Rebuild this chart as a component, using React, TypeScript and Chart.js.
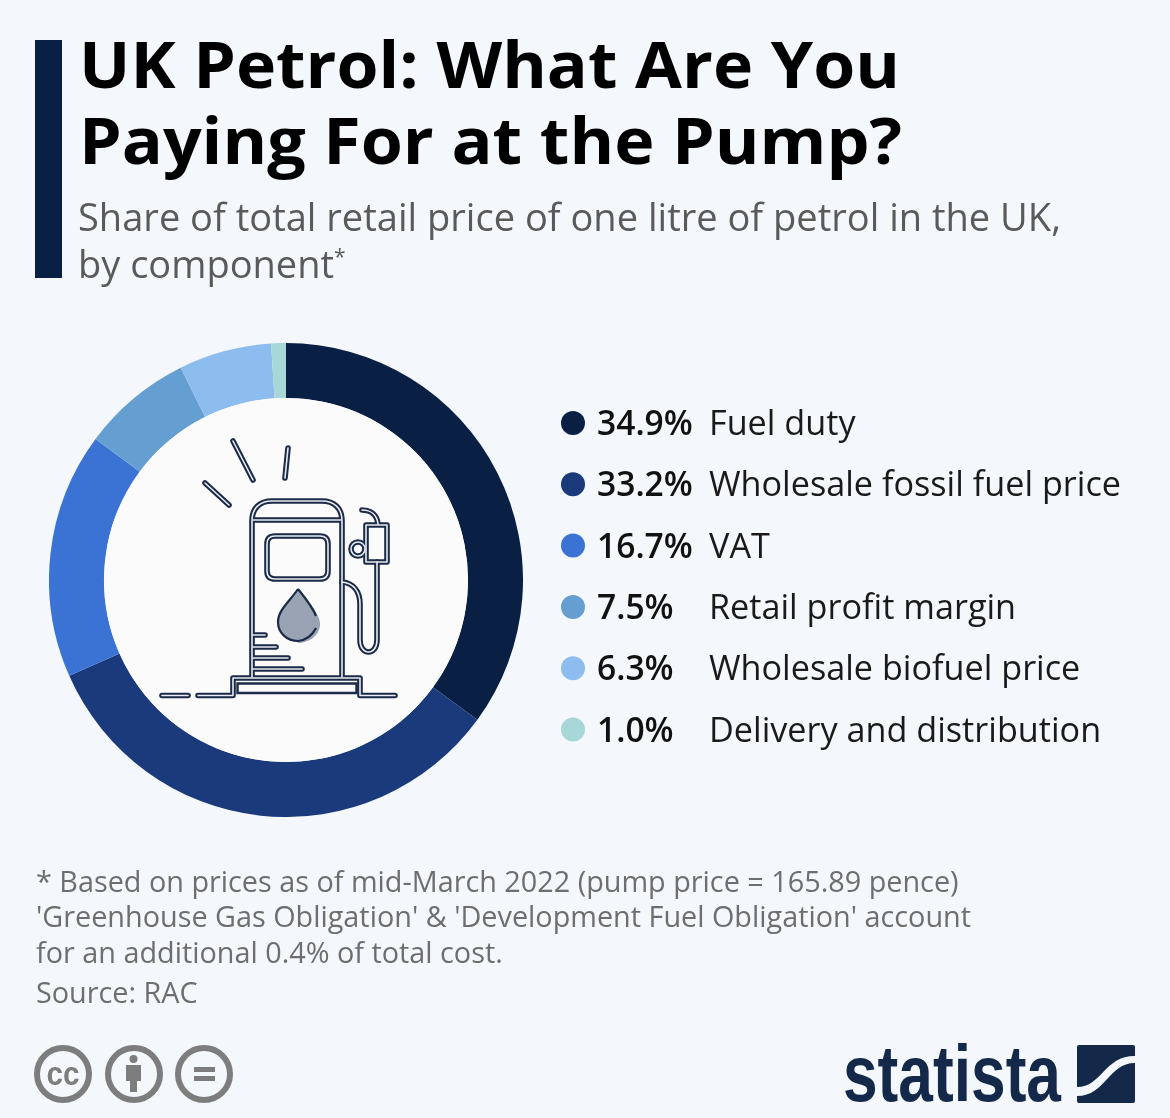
import React, { useEffect, useRef } from "react";
import { Chart, registerables } from "chart.js";

Chart.register(...registerables);

const categories = ["Fuel duty", "Wholesale fossil fuel price", "VAT", "Retail profit margin", "Wholesale biofuel price", "Delivery and distribution"];
const shares = [34.9, 33.2, 16.7, 7.5, 6.3, 1.0];
const colors = ["#0a1f44", "#1a3a7c", "#3b73d5", "#659fd2", "#8dbcee", "#a7d7d6"];
const titleLines = ["UK Petrol: What Are You", "Paying For at the Pump?"];
const footnotes = [
  "* Based on prices as of mid-March 2022 (pump price = 165.89 pence)",
  "'Greenhouse Gas Obligation' & 'Development Fuel Obligation' account",
  "for an additional 0.4% of total cost.",
];

const FONT = "'Open Sans', sans-serif";
const INK = "#1b2a47";

const iconPaths = [
  "M233 441 L253 480", "M288 448 L285 478", "M205 483 L229 505",
  "M252 677 V521 C252 508 260 501 272 501 H322 C334 501 342 508 342 521 V677",
  "M253 520 H341",
  "M275 536 H320 Q328 536 328 544 V571 Q328 579 320 579 H275 Q267 579 267 571 V544 Q267 536 275 536 Z",
  "M253 635 H265", "M253 647 H276", "M253 658 H288", "M253 669 H302",
  "M162 695.5 H188",
  "M198 695.5 H233 V678 H360 V695.5 H395",
  "M342 582 C354 583 360 592 360 604 V640 C360 656 377 656 377 640 V562",
  "M366 525 H387 V562 H366 Z",
  "M362 510 C371 510 377 515 378 524",
];

export default function App() {
  const ref = useRef<HTMLCanvasElement>(null);
  useEffect(() => {
    document.body.style.margin = "0";
    document.body.style.background = "#f4f8fc";
    const chart = new Chart(ref.current!, {
      type: "doughnut",
      data: {
        labels: categories,
        datasets: [{ data: shares, backgroundColor: colors, borderWidth: 0 }],
      },
      options: {
        animation: false,
        responsive: false,
        cutout: 182,
        layout: { padding: 0 },
        plugins: { legend: { display: false }, tooltip: { enabled: false } },
      },
    });
    return () => chart.destroy();
  }, []);

  return (
    <div style={{ position: "relative", width: 1170, height: 1118, background: "#f4f8fc", overflow: "hidden" }}>
      <canvas ref={ref} width={474} height={474} style={{ position: "absolute", left: 49, top: 343, width: 474, height: 474 }} />
      <svg width={1170} height={1118} style={{ position: "absolute", left: 0, top: 0 }} fontFamily={FONT}>
        <rect x={35} y={40} width={27} height={238} fill="#0a1f44" />
        {titleLines.map((t, i) => (
          <text key={t} x={79} y={88 + i * 76} fontSize={65} fontWeight={700} fill="#000" textLength={i === 0 ? 821 : 823} lengthAdjust="spacingAndGlyphs">{t}</text>
        ))}
        <text x={78} y={231} fontSize={38} fill="#5a5a5a" textLength={983} lengthAdjust="spacingAndGlyphs">Share of total retail price of one litre of petrol in the UK,</text>
        <text x={78} y={278} fontSize={38} fill="#5a5a5a">by component<tspan fontSize={21} dy={-14}>*</tspan></text>

        <circle cx={286} cy={580} r={182} fill="#fbfbfc" />
        <path d="M300 590 C305 598 322 615 320 626 C318 638 306 643 298 643 Z" fill="#9aa3b3" />
        <path d="M298 589 C290 601 278 610 278 622 C278 633 287 641 298 641 C309 641 318 633 318 622 C318 610 306 601 298 589 Z" fill="#9aa3b3" />
        <path d="M298 589 C290 601 278 610 278 622 C278 633 287 641 298 641" fill="none" stroke={INK} strokeWidth={2.2} />
        <path d="M298 589 C306 599 312 606 316 616 M316 628 C312 636 306 640 298 641" fill="none" stroke={INK} strokeWidth={2.2} />
        <path d="M237.5 683.5 H356.5 V693 H237.5 Z" fill="none" stroke={INK} strokeWidth={2.4} />
        {iconPaths.map((d) => (
          <path key={d} d={d} fill="none" stroke={INK} strokeWidth={5.6} strokeLinecap="round" strokeLinejoin="round" />
        ))}
        <circle cx={358} cy={549} r={7} fill="none" stroke={INK} strokeWidth={5.6} />
        {iconPaths.map((d) => (
          <path key={d + "w"} d={d} fill="none" stroke="#e9ecf1" strokeWidth={1.6} strokeLinecap="round" strokeLinejoin="round" />
        ))}
        <circle cx={358} cy={549} r={7} fill="none" stroke="#e9ecf1" strokeWidth={1.6} />

        {categories.map((c, i) => {
          const y = 423 + i * 61.3;
          return (
            <g key={c}>
              <circle cx={573} cy={y} r={12} fill={colors[i]} />
              <text x={597} y={y + 12} fontSize={33.6} fontWeight={600} fill="#111">{shares[i].toFixed(1)}%</text>
              <text x={709} y={y + 12} fontSize={34.2} fill="#1a1a1a">{c}</text>
            </g>
          );
        })}

        {footnotes.map((t, i) => (
          <text key={t} x={36} y={892 + i * 35.3} fontSize={28.8} fill="#6e6e6e">{t}</text>
        ))}
        <text x={36} y={1003} fontSize={28.8} fill="#6e6e6e">Source: RAC</text>

        <g fill="none" stroke="#7d7d7d" strokeWidth={6}>
          <circle cx={63} cy={1074} r={26} />
          <circle cx={134} cy={1074} r={26} />
          <circle cx={204} cy={1074} r={26} />
        </g>
        <text x={63} y={1085} fontSize={33} fontWeight={700} fill="#7d7d7d" textAnchor="middle" fontFamily="'Liberation Sans', sans-serif" textLength={33} lengthAdjust="spacingAndGlyphs">cc</text>
        <circle cx={133.5} cy={1059} r={4} fill="#7d7d7d" />
        <path d="M126 1065 H141 V1081 H137 V1092 H130 V1081 H126 Z" fill="#7d7d7d" />
        <rect x={194} y={1067} width={21} height={5} fill="#7d7d7d" />
        <rect x={194} y={1076} width={21} height={5} fill="#7d7d7d" />

        <text x={843} y={1101} fontSize={79} fontWeight={700} fill="#14284a" fontFamily="'Liberation Sans Narrow', 'Liberation Sans', sans-serif" textLength={218} lengthAdjust="spacingAndGlyphs">statista</text>
        <rect x={1077} y={1045} width={58} height={58} rx={2} fill="#14284a" />
        <path d="M1077 1087 C1102 1087 1104 1056 1135 1056 V1063 C1108 1063 1106 1096 1077 1096 Z" fill="#f4f8fc" />
      </svg>
    </div>
  );
}
